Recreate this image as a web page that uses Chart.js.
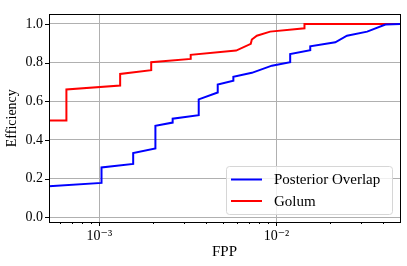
<!DOCTYPE html>
<html>
<head>
<meta charset="utf-8">
<script src="https://cdn.jsdelivr.net/npm/chart.js@4/dist/chart.umd.min.js"></script>
<style>
  html, body { margin: 0; padding: 0; background: #fff; }
  #wrap { width: 407px; height: 266px; }
</style>
</head>
<body>
<div id="wrap"><canvas id="c" width="407" height="266"></canvas></div>
<script>
// values
const fppOverlap = [5.20e-4, 5.20e-4, 1.029e-3, 1.029e-3, 1.553e-3, 1.553e-3, 2.073e-3, 2.073e-3,
    2.594e-3, 2.594e-3, 3.64e-3, 3.64e-3, 4.66e-3, 4.66e-3, 5.71e-3, 5.71e-3, 7.26e-3, 9.42e-3,
    1.195e-2, 1.195e-2, 1.551e-2, 1.551e-2, 2.148e-2, 2.50e-2, 3.25e-2, 4.12e-2, 4.98e-2];
const effOverlap = [0.025, 0.161, 0.178, 0.258, 0.276, 0.332, 0.356, 0.473,
    0.490, 0.510, 0.528, 0.610, 0.645, 0.686, 0.706, 0.727, 0.747, 0.784,
    0.802, 0.844, 0.864, 0.884, 0.905, 0.939, 0.960, 0.997, 1.0];

const fppGolum = [5.20e-4, 6.52e-4, 6.52e-4, 1.311e-3, 1.311e-3, 1.963e-3, 1.963e-3, 3.28e-3,
    3.28e-3, 5.92e-3, 7.16e-3, 7.26e-3, 7.75e-3, 9.21e-3, 1.439e-2, 1.439e-2, 4.98e-2];
const effGolum = [0.50, 0.50, 0.661, 0.681, 0.741, 0.761, 0.802, 0.819,
    0.840, 0.862, 0.897, 0.919, 0.939, 0.960, 0.977, 1.0, 1.0];

const seriesLabels = ['Posterior Overlap', 'Golum'];
const yTicks = [0, 0.2, 0.4, 0.6, 0.8, 1.0];
const xTicks = [6e-4, 7e-4, 8e-4, 9e-4, 1e-3, 2e-3, 3e-3, 4e-3, 5e-3, 6e-3, 7e-3, 8e-3, 9e-3,
    1e-2, 2e-2, 3e-2, 4e-2];
const xTickLabels = { '0.001': '10\u207B\u00B3', '0.01': '10\u207B\u00B2' };

const FONT = "'Liberation Serif', 'DejaVu Serif', serif";

function pts(xs, ys) { return xs.map((x, i) => ({ x, y: ys[i] })); }
function isMajor(v) { return xTickLabels[String(v)] !== undefined; }

// frame, tick marks and the legend box (matplotlib style)
const decor = {
    id: 'decor',
    afterDraw(chart) {
        const { ctx, chartArea: a, scales } = chart;
        ctx.save();
        ctx.strokeStyle = '#000';
        ctx.lineWidth = 1;
        ctx.beginPath();
        scales.x.ticks.forEach(t => {
            const px = Math.round(scales.x.getPixelForValue(t.value)) + 0.5;
            const len = isMajor(t.value) ? 4 : 2;
            ctx.moveTo(px, a.bottom); ctx.lineTo(px, a.bottom + len);
        });
        scales.y.ticks.forEach(t => {
            const py = Math.round(scales.y.getPixelForValue(t.value)) + 0.5;
            ctx.moveTo(a.left, py); ctx.lineTo(a.left - 4, py);
        });
        ctx.stroke();
        ctx.strokeRect(Math.round(a.left) + 0.5, Math.round(a.top) + 0.5,
            Math.round(a.right - a.left), Math.round(a.bottom - a.top));

        // legend
        const w = 166, h = 48;
        const x0 = a.right - 8 - w, y0 = a.bottom - 8 - h;
        ctx.beginPath();
        ctx.roundRect(x0 + 0.5, y0 + 0.5, w, h, 3);
        ctx.fillStyle = 'rgba(255,255,255,0.8)';
        ctx.fill();
        ctx.strokeStyle = '#d6d6d6';
        ctx.stroke();
        ctx.font = '15px ' + FONT;
        ctx.textBaseline = 'middle';
        chart.data.datasets.forEach((ds, i) => {
            const cy = y0 + 13.5 + i * 21.5;
            ctx.strokeStyle = ds.borderColor;
            ctx.lineWidth = 2;
            ctx.beginPath();
            ctx.moveTo(x0 + 5, cy); ctx.lineTo(x0 + 36, cy);
            ctx.stroke();
            ctx.fillStyle = '#000';
            ctx.fillText(ds.label, x0 + 48, cy + 1);
        });
        ctx.restore();
    }
};

new Chart(document.getElementById('c'), {
    type: 'line',
    data: {
        datasets: [
            { label: seriesLabels[0], data: pts(fppOverlap, effOverlap), borderColor: '#0000ff' },
            { label: seriesLabels[1], data: pts(fppGolum, effGolum), borderColor: '#ff0000' }
        ]
    },
    options: {
        responsive: false,
        animation: false,
        devicePixelRatio: 1,
        layout: { padding: { top: 6, right: 7, left: 0, bottom: 0 } },
        elements: {
            line: { borderWidth: 2, tension: 0, borderJoinStyle: 'miter' },
            point: { radius: 0 }
        },
        plugins: { legend: { display: false }, tooltip: { enabled: false } },
        scales: {
            x: {
                type: 'logarithmic',
                min: 5.20e-4,
                max: 4.98e-2,
                afterBuildTicks: s => { s.ticks = xTicks.map(v => ({ value: v })); },
                afterFit: s => { s.height = 44; },
                grid: {
                    drawTicks: false,
                    color: c => (c.tick && isMajor(c.tick.value)) ? '#b0b0b0' : 'rgba(0,0,0,0)',
                    lineWidth: 1
                },
                border: { display: false },
                ticks: {
                    autoSkip: false,
                    maxRotation: 0,
                    padding: 6,
                    color: '#000',
                    font: { family: FONT, size: 14 },
                    callback: v => xTickLabels[String(v)] || ''
                },
                title: {
                    display: true, text: 'FPP', color: '#000',
                    font: { family: FONT, size: 15 }, padding: { top: 0, bottom: 5 }
                }
            },
            y: {
                min: -0.024,
                max: 1.049,
                afterBuildTicks: s => { s.ticks = yTicks.map(v => ({ value: v })); },
                afterFit: s => { s.width = 49; },
                grid: { drawTicks: false, color: '#b0b0b0', lineWidth: 1 },
                border: { display: false },
                ticks: {
                    padding: 6,
                    color: '#000',
                    font: { family: FONT, size: 14 },
                    callback: v => v.toFixed(1)
                },
                title: {
                    display: true, text: 'Efficiency', color: '#000',
                    font: { family: FONT, size: 14 }, padding: { top: 4, bottom: 0 }
                }
            }
        }
    },
    plugins: [decor]
});
</script>
</body>
</html>
